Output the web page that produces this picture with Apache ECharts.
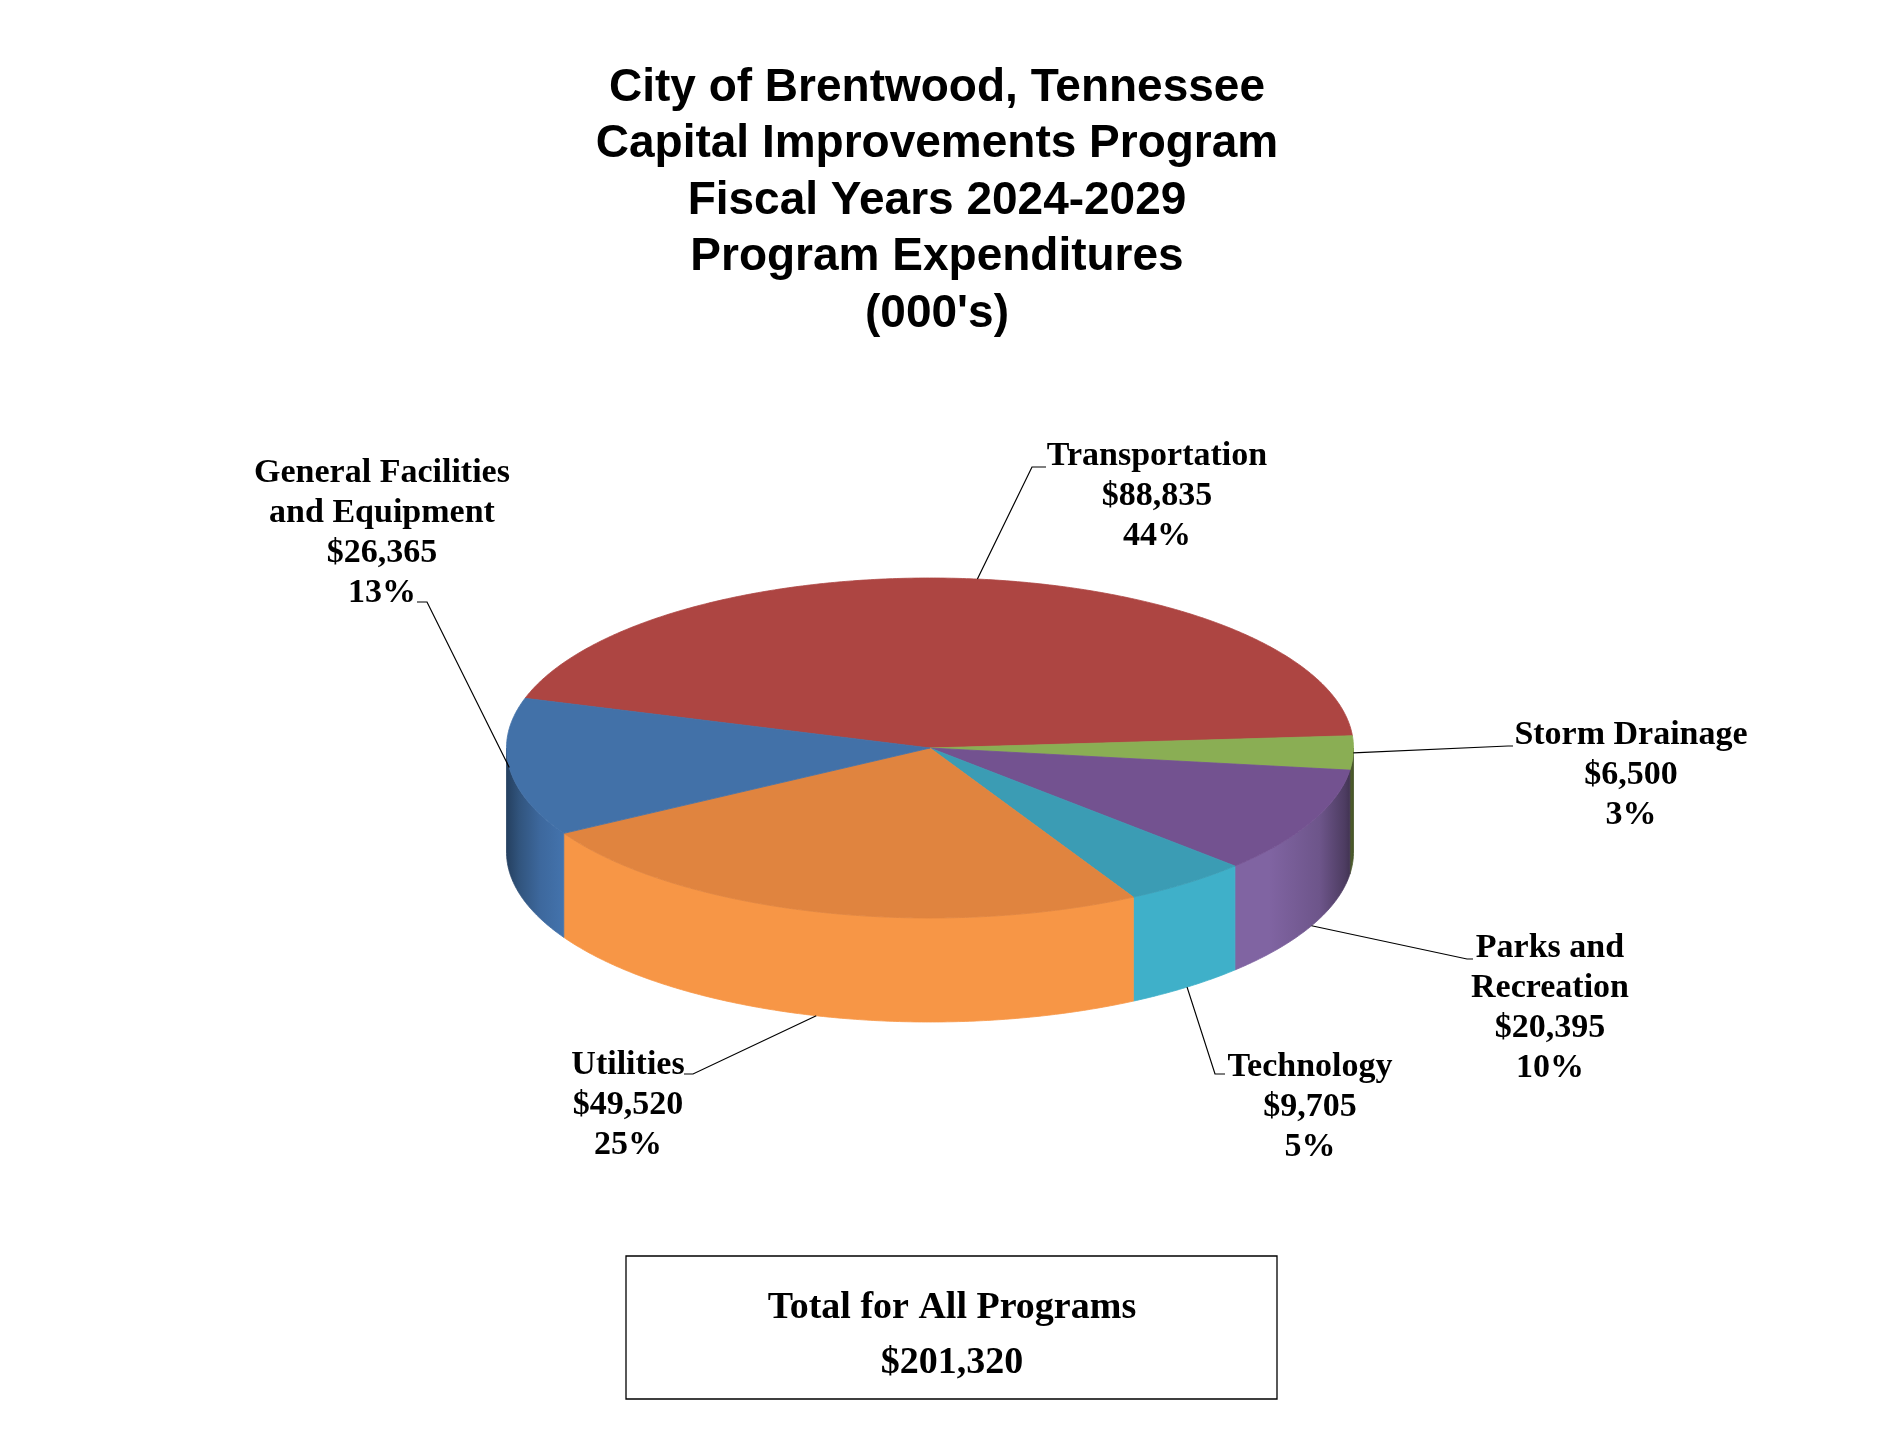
<!DOCTYPE html>
<html><head><meta charset="utf-8">
<script src="https://cdn.jsdelivr.net/npm/echarts@6/dist/echarts.min.js"></script>
<style>html,body{margin:0;padding:0;background:#fff}#c{width:1882px;height:1444px}</style>
</head><body><div id="c"></div>
<script>
// ---- data ----
const categories = ['Transportation', 'Storm Drainage', 'Parks and Recreation', 'Technology', 'Utilities', 'General Facilities and Equipment'];
const labelNames = ['Transportation', 'Storm Drainage', 'Parks and\nRecreation', 'Technology', 'Utilities', 'General Facilities\nand Equipment'];
const values = [88835, 6500, 20395, 9705, 49520, 26365];
const titleLines = ['City of Brentwood, Tennessee', 'Capital Improvements Program', 'Fiscal Years 2024-2029', 'Program Expenditures', "(000's)"];
const totalLabel = 'Total for All Programs';

// ---- styles ----
const topColors = ['#AD4542', '#8AAE54', '#735290', '#3B9CB4', '#E0843F', '#4271A8'];
const sideColors = ['#C0504D', '#9BBB59', '#8064A2', '#3FB0C9', '#F79646', '#4474AE'];

// ---- layout ----
const pie = { cx: 930, cy: 748, rx: 423.5, ry: 170, depth: 104, startAngle: 163 };
const labelLayout = [
  { x: 1157, y: 456, elbow: [1032, 467], end: [1046, 467], bottom: false },
  { x: 1631, y: 735, elbow: [1508, 746], end: [1513, 746], bottom: false },
  { x: 1550, y: 948, elbow: [1467, 959], end: [1473, 959], bottom: true },
  { x: 1310, y: 1067, elbow: [1215, 1074], end: [1225, 1074], bottom: true },
  { x: 628, y: 1065, elbow: [693, 1074], end: [684, 1074], bottom: true },
  { x: 382, y: 473, elbow: [427, 602], end: [417, 602], bottom: false }
];

const total = values.reduce((a, b) => a + b, 0);
const angles = [];
(function () {
  let acc = 0;
  values.forEach(v => {
    const a0 = pie.startAngle - acc / total * 360;
    acc += v;
    const a1 = pie.startAngle - acc / total * 360;
    angles.push([a0, a1]);
  });
})();

function pt(deg, dy) {
  const r = deg * Math.PI / 180;
  return [pie.cx + pie.rx * Math.cos(r), pie.cy - pie.ry * Math.sin(r) + (dy || 0)];
}
function arc(a0, a1, dy) {
  const pts = [];
  const n = Math.max(2, Math.ceil(Math.abs(a0 - a1) * 2));
  for (let i = 0; i <= n; i++) pts.push(pt(a0 + (a1 - a0) * i / n, dy));
  return pts;
}
function shade(hex, f) {
  const n = parseInt(hex.slice(1), 16);
  const r = Math.round(((n >> 16) & 255) * f), g = Math.round(((n >> 8) & 255) * f), b = Math.round((n & 255) * f);
  return 'rgb(' + r + ',' + g + ',' + b + ')';
}
function sideFill(i) {
  const c = sideColors[i];
  return {
    type: 'linear', global: true,
    x: pie.cx - pie.rx, y: 0, x2: pie.cx + pie.rx, y2: 0,
    colorStops: [
      { offset: 0, color: shade(c, 0.55) },
      { offset: 0.015, color: shade(c, 0.72) },
      { offset: 0.04, color: shade(c, 0.9) },
      { offset: 0.07, color: shade(c, 1) },
      { offset: 0.9, color: shade(c, 1) },
      { offset: 0.96, color: shade(c, 0.85) },
      { offset: 0.99, color: shade(c, 0.6) },
      { offset: 1, color: shade(c, 0.45) }
    ]
  };
}
function fmt(v) { return '$' + v.toLocaleString('en-US'); }

function renderItem(params, api) {
  const i = params.dataIndex;
  const v = api.value(0);
  const [a0, a1] = angles[i];
  const children = [];
  [[-180, 0], [180, 360], [-540, -360]].forEach(([lo, hi]) => {
    const s = Math.min(a0, hi), e = Math.max(a1, lo);
    if (s > e) {
      const top = arc(s, e, 0), bot = arc(e, s, pie.depth);
      const f = sideFill(i);
      children.push({ type: 'polygon', shape: { points: top.concat(bot) }, style: { fill: f, stroke: f, lineWidth: 0.8 }, z2: 1 });
    }
  });
  children.push({
    type: 'polygon',
    shape: { points: [[pie.cx, pie.cy]].concat(arc(a0, a1, 0)) },
    style: { fill: topColors[i], stroke: topColors[i], lineWidth: 0.8 },
    z2: 2
  });
  const L = labelLayout[i];
  const mid = (a0 + a1) / 2;
  const anchor = pt(mid, L.bottom ? pie.depth : 0);
  children.push({
    type: 'polyline',
    shape: { points: [anchor, L.elbow, L.end] },
    style: { stroke: '#000', lineWidth: 1.2, fill: null },
    z2: 10
  });
  const pct = Math.round(v / total * 100) + '%';
  children.push({
    type: 'text',
    style: {
      text: labelNames[i] + '\n' + fmt(v) + '\n' + pct,
      x: L.x, y: L.y - 20,
      textAlign: 'center', align: 'center',
      textVerticalAlign: 'top', verticalAlign: 'top',
      font: 'bold 34px "Liberation Serif", "Times New Roman", serif',
      lineHeight: 40,
      fill: '#000'
    },
    z2: 11
  });
  return { type: 'group', children: children };
}

const chart = echarts.init(document.getElementById('c'), null, { renderer: 'canvas' });
chart.setOption({
  backgroundColor: '#fff',
  animation: false,
  graphic: [
    {
      type: 'text', silent: true,
      style: {
        text: titleLines.join('\n'), x: 937, y: 60,
        textAlign: 'center', align: 'center', textVerticalAlign: 'top', verticalAlign: 'top',
        font: 'bold 46px "Liberation Sans", Arial, sans-serif', lineHeight: 56.5, fill: '#000'
      }
    },
    {
      type: 'rect', silent: true,
      shape: { x: 626, y: 1256, width: 651, height: 143 },
      style: { fill: '#fff', stroke: '#000', lineWidth: 1.3 }
    },
    {
      type: 'text', silent: true, z: 10,
      style: {
        text: totalLabel + '\n' + fmt(total), x: 952, y: 1280.5,
        textAlign: 'center', align: 'center', textVerticalAlign: 'top', verticalAlign: 'top',
        font: 'bold 38px "Liberation Serif", "Times New Roman", serif', lineHeight: 55, fill: '#000'
      }
    }
  ],
  series: [{
    type: 'custom',
    name: 'Program Expenditures',
    coordinateSystem: 'none',
    silent: true,
    renderItem: renderItem,
    data: values.map((v, i) => ({ name: categories[i], value: [v] }))
  }]
});
</script>
</body></html>
